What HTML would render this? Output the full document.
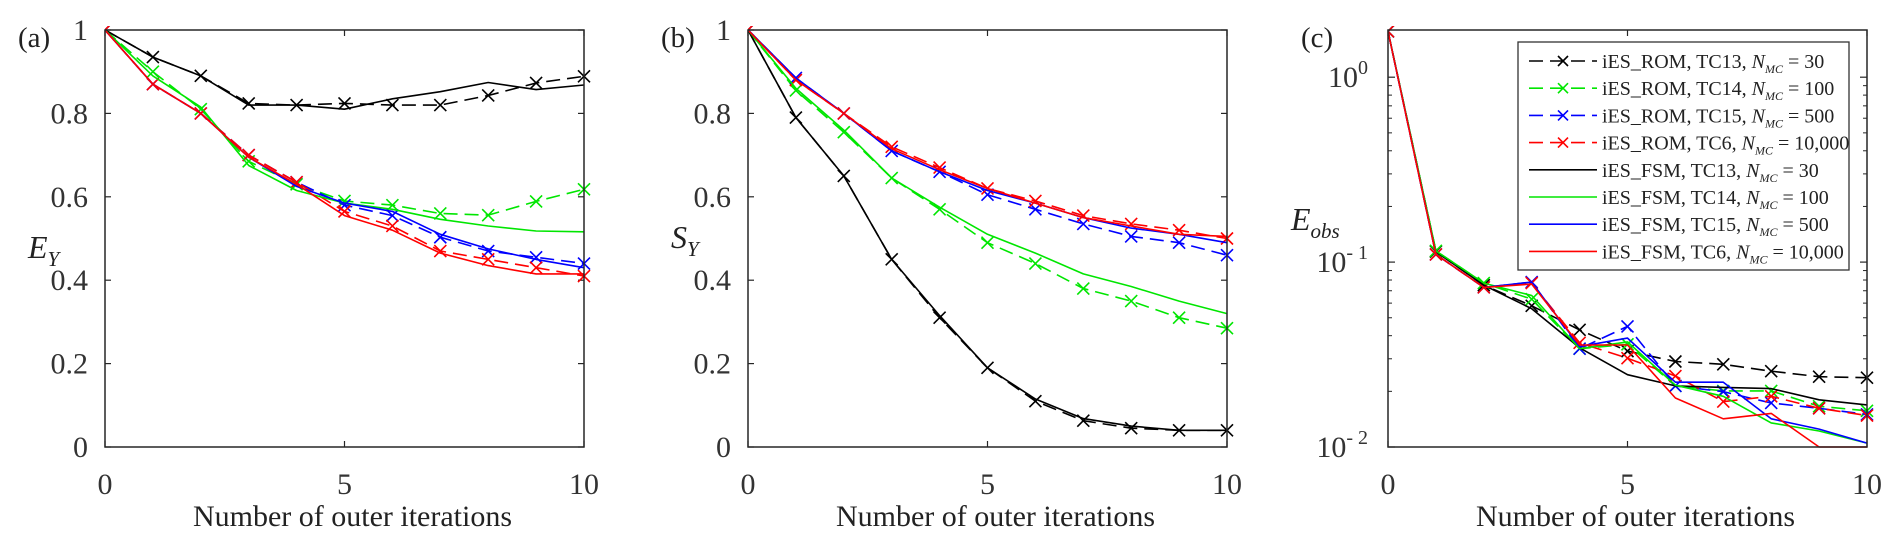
<!DOCTYPE html>
<html><head><meta charset="utf-8">
<style>
html,body{margin:0;padding:0;background:#fff;}
svg{display:block;font-family:"Liberation Serif",serif;}
</style></head>
<body>
<svg id="fig" width="1892" height="542" viewBox="0 0 1892 542" xmlns="http://www.w3.org/2000/svg"></svg>
<script>
const iterations = [0,1,2,3,4,5,6,7,8,9,10];
const xTicks = [0,5,10];
const linTicks = [0,0.2,0.4,0.6,0.8,1];
const linTickLabels = ['0','0.2','0.4','0.6','0.8','1'];
const logTickExps = [-2,-1,0];
const seriesNames = ['rom-tc13','rom-tc14','rom-tc15','rom-tc6','fsm-tc13','fsm-tc14','fsm-tc15','fsm-tc6'];
const seriesColors = ['#000','#00e600','#0000ff','#ff0000','#000','#00e600','#0000ff','#ff0000'];
const legendMain = ['iES_ROM, TC13, ','iES_ROM, TC14, ','iES_ROM, TC15, ','iES_ROM, TC6, ','iES_FSM, TC13, ','iES_FSM, TC14, ','iES_FSM, TC15, ','iES_FSM, TC6, '];
const legendTail = [' = 30',' = 100',' = 500',' = 10,000',' = 30',' = 100',' = 500',' = 10,000'];

const eyRomTc13 = [1,0.935,0.89,0.824,0.82,0.824,0.82,0.82,0.843,0.873,0.889];
const eyRomTc14 = [1,0.9,0.81,0.685,0.63,0.59,0.58,0.56,0.556,0.589,0.618];
const eyRomTc15 = [1,0.87,0.80,0.70,0.635,0.58,0.555,0.503,0.47,0.455,0.44];
const eyRomTc6  = [1,0.87,0.80,0.70,0.635,0.565,0.53,0.47,0.45,0.43,0.41];
const eyFsmTc13 = [1,0.935,0.89,0.82,0.82,0.81,0.835,0.852,0.874,0.857,0.868];
const eyFsmTc14 = [1,0.89,0.815,0.675,0.615,0.585,0.57,0.546,0.53,0.518,0.516];
const eyFsmTc15 = [1,0.87,0.80,0.695,0.625,0.585,0.565,0.51,0.475,0.45,0.43];
const eyFsmTc6  = [1,0.87,0.80,0.695,0.63,0.555,0.52,0.465,0.435,0.415,0.415];

const syRomTc13 = [1,0.79,0.65,0.45,0.31,0.19,0.11,0.063,0.045,0.04,0.04];
const syRomTc14 = [1,0.855,0.755,0.645,0.57,0.49,0.44,0.38,0.35,0.31,0.285];
const syRomTc15 = [1,0.885,0.80,0.71,0.66,0.605,0.57,0.535,0.505,0.49,0.46];
const syRomTc6  = [1,0.88,0.80,0.72,0.67,0.62,0.59,0.555,0.535,0.52,0.50];
const syFsmTc13 = [1,0.79,0.65,0.45,0.315,0.19,0.115,0.068,0.05,0.04,0.04];
const syFsmTc14 = [1,0.86,0.76,0.645,0.575,0.51,0.465,0.415,0.385,0.35,0.32];
const syFsmTc15 = [1,0.885,0.80,0.71,0.66,0.615,0.585,0.55,0.525,0.51,0.49];
const syFsmTc6  = [1,0.88,0.80,0.715,0.665,0.62,0.585,0.55,0.53,0.51,0.505];

const eoRomTc13 = [1.77,0.114,0.075,0.058,0.043,0.033,0.029,0.028,0.0257,0.024,0.0237];
const eoRomTc14 = [1.77,0.115,0.077,0.063,0.034,0.0359,0.0214,0.0201,0.0201,0.0166,0.0157];
const eoRomTc15 = [1.77,0.11,0.073,0.078,0.034,0.0449,0.0214,0.0199,0.0173,0.0162,0.015];
const eoRomTc6  = [1.77,0.11,0.073,0.077,0.0366,0.0302,0.0242,0.0176,0.0188,0.0162,0.0148];
const eoFsmTc13 = [1.77,0.114,0.075,0.056,0.0344,0.0246,0.0214,0.021,0.0207,0.018,0.0169];
const eoFsmTc14 = [1.77,0.115,0.077,0.066,0.034,0.037,0.0216,0.0188,0.0135,0.0122,0.0105];
const eoFsmTc15 = [1.77,0.11,0.073,0.078,0.0349,0.0388,0.0224,0.0224,0.0142,0.0125,0.0105];
const eoFsmTc6  = [1.77,0.11,0.073,0.076,0.0356,0.0356,0.0184,0.0142,0.0152,0.01,0.01];

const NS='http://www.w3.org/2000/svg';
const svg=document.getElementById('fig');
function mk(tag,attrs,parent){const e=document.createElementNS(NS,tag);for(const k in attrs)e.setAttribute(k,attrs[k]);(parent||svg).appendChild(e);return e;}
const TOP=30,BOT=447,AX='#262626';

function panel(id,left,label,ylab,ysub,isLog,data,ylx,yly){
  const right=left+479;
  const g=mk('g',{});
  
  
  const xs=v=>left+(v/10)*(right-left);
  let ys;
  if(isLog){const lo=-2,hi=Math.log10(1.8);ys=v=>BOT-(Math.log10(v)-lo)/(hi-lo)*(BOT-TOP);}
  else ys=v=>BOT-v*(BOT-TOP);
  const cp=mk('clipPath',{id:'clip'+id},g);mk('rect',{x:left,y:TOP-4,width:right-left+8,height:BOT-TOP+8},cp);
  xTicks.forEach(t=>{const x=xs(t);
    mk('line',{x1:x,y1:BOT,x2:x,y2:BOT-6,stroke:AX,'stroke-width':1.2},g);
    mk('line',{x1:x,y1:TOP,x2:x,y2:TOP+6,stroke:AX,'stroke-width':1.2},g);
    const tx=mk('text',{x:x,y:494,'font-size':30,'text-anchor':'middle',fill:'#333'},g);tx.textContent=t;
    
    
  });
  if(isLog){
    logTickExps.forEach(e=>{const y=ys(Math.pow(10,e));
      mk('line',{x1:left,y1:y,x2:left+7,y2:y,stroke:AX,'stroke-width':1.2},g);
      mk('line',{x1:right,y1:y,x2:right-7,y2:y,stroke:AX,'stroke-width':1.2},g);
      const tx=mk('text',{x:left-20,y:y+10,'font-size':30,'text-anchor':'end',fill:'#333'},g);
      tx.textContent='10';
      const sp=mk('tspan',{dy:-13,'font-size':20},tx);sp.textContent=e===0?'0':'- '+(-e);
      
      
      for(let m=2;m<=9;m++){const v=m*Math.pow(10,e);if(Math.log10(v)>Math.log10(1.8))continue;const ym=ys(v);
        mk('line',{x1:left,y1:ym,x2:left+4,y2:ym,stroke:AX,'stroke-width':1},g);
        mk('line',{x1:right,y1:ym,x2:right-4,y2:ym,stroke:AX,'stroke-width':1},g);}
    });
  } else {
    linTicks.forEach((t,i)=>{const y=ys(t);
      mk('line',{x1:left,y1:y,x2:left+6,y2:y,stroke:AX,'stroke-width':1.2},g);
      mk('line',{x1:right,y1:y,x2:right-6,y2:y,stroke:AX,'stroke-width':1.2},g);
      const tx=mk('text',{x:left-17,y:y+10,'font-size':30,'text-anchor':'end',fill:'#333'},g);tx.textContent=linTickLabels[i];
      
      
    });
  }
  const sg=mk('g',{'clip-path':'url(#clip'+id+')'},g);
  data.forEach((arr,si)=>{
    const dashed=si<4;
    const pts=iterations.map((it,i)=>xs(it).toFixed(1)+','+ys(arr[i]).toFixed(1)).join(' ');
    const pl=mk('polyline',{points:pts,fill:'none',stroke:seriesColors[si],'stroke-width':1.6,'stroke-dasharray':dashed?'14,7':'none','stroke-linejoin':'round'},sg);
    
    
    if(dashed){iterations.forEach((it,i)=>{const x=xs(it),y=ys(arr[i]),s=6;
      const p=mk('path',{d:`M${x-s},${y-s}L${x+s},${y+s}M${x-s},${y+s}L${x+s},${y-s}`,stroke:seriesColors[si],'stroke-width':1.6,fill:'none'},sg);
      
      });}
  });
  const box=mk('rect',{x:left,y:TOP,width:right-left,height:BOT-TOP,fill:'none',stroke:AX,'stroke-width':1.5},g);
  
  
  const pl=mk('text',{x:left-87,y:47,'font-size':29,fill:'#222'},g);pl.textContent=label;
  
  
  const yl=mk('text',{x:ylx,y:yly,'font-size':32,'font-style':'italic',fill:'#222'},g);yl.textContent=ylab;
  const ss=mk('tspan',{dy:8,'font-size':21},yl);ss.textContent=ysub;
  
  
  const xl=mk('text',{x:(left+right)/2+8,y:526,'font-size':30,'text-anchor':'middle',fill:'#222'},g);xl.textContent='Number of outer iterations';
  
  
}
panel('a',105,'(a)','E','Y',false,[eyRomTc13,eyRomTc14,eyRomTc15,eyRomTc6,eyFsmTc13,eyFsmTc14,eyFsmTc15,eyFsmTc6],28,258);
panel('b',748,'(b)','S','Y',false,[syRomTc13,syRomTc14,syRomTc15,syRomTc6,syFsmTc13,syFsmTc14,syFsmTc15,syFsmTc6],671,248);
panel('c',1388,'(c)','E','obs',true,[eoRomTc13,eoRomTc14,eoRomTc15,eoRomTc6,eoFsmTc13,eoFsmTc14,eoFsmTc15,eoFsmTc6],1291,230);

const lg=mk('g',{});


mk('rect',{x:1518,y:42,width:331,height:228,fill:'#fff',stroke:'#333','stroke-width':1.3},lg);
seriesNames.forEach((n,i)=>{
  const y=61+i*27.2;
  const e=mk('g',{},lg);
  
  
  mk('line',{x1:1529,y1:y,x2:1597,y2:y,stroke:seriesColors[i],'stroke-width':1.6,'stroke-dasharray':i<4?'14,7':'none'},e);
  if(i<4){const x=1563,s=5;mk('path',{d:`M${x-s},${y-s}L${x+s},${y+s}M${x-s},${y+s}L${x+s},${y-s}`,stroke:seriesColors[i],'stroke-width':1.6},e);}
  const t=mk('text',{x:1602,y:y+7,'font-size':20,fill:'#222'},e);
  t.textContent=legendMain[i];
  const n1=mk('tspan',{'font-style':'italic'},t);n1.textContent='N';
  const n2=mk('tspan',{'font-style':'italic','font-size':12,dy:5},t);n2.textContent='MC';
  const n3=mk('tspan',{dy:-5},t);n3.textContent=legendTail[i];
});
</script>
</body></html>
